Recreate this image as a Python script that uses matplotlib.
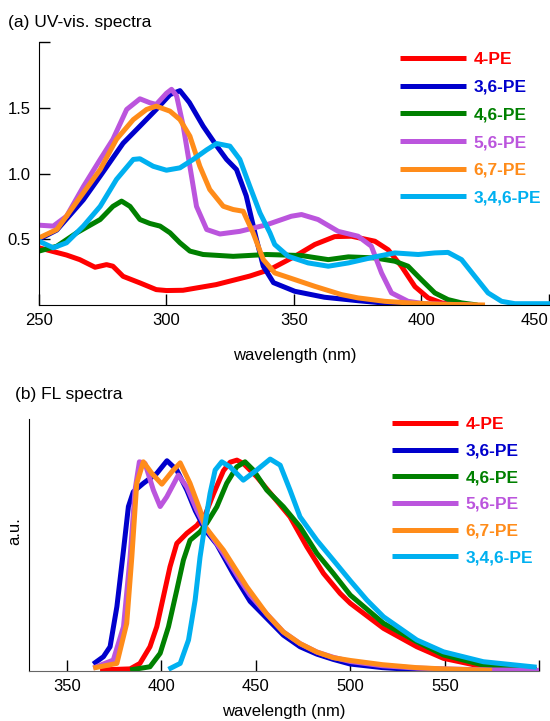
"""
UV-vis and FL spectra of the PE series
"""
import matplotlib
matplotlib.use("Agg")
from matplotlib import pyplot as plt

plt.rcParams['font.family'] = ['Liberation Sans', 'DejaVu Sans']

names = ['4-PE', '3,6-PE', '4,6-PE', '5,6-PE', '6,7-PE', '3,4,6-PE']
colors = ['#ff0000', '#0000cc', '#008000', '#bb55dd', '#ff8c1a', '#00b0f0']

# (a) UV-vis absorbance
uv_wl_4 = [250, 260.8, 266, 272, 276.5, 279, 283, 289.6, 296, 300, 306.5, 319.5, 332.7,
           340.6, 350.4, 358.2, 366, 372.6, 381.8, 387, 392.2, 397.5, 402.7, 408, 415, 420]
uv_abs_4 = [0.435, 0.38, 0.345, 0.287, 0.307, 0.295, 0.218, 0.168, 0.117, 0.11, 0.112, 0.155,
            0.22, 0.27, 0.37, 0.46, 0.52, 0.523, 0.485, 0.42, 0.295, 0.14, 0.054, 0.016, 0.0, 0.0]

uv_wl_36 = [250, 257, 267.4, 274, 283, 289.6, 296, 301.4, 305.3, 309, 314.4, 319.7, 323.6,
            327.5, 331.3, 335.3, 338, 342, 350.4, 362, 375, 388, 400]
uv_abs_36 = [0.5, 0.57, 0.80, 0.98, 1.23, 1.36, 1.487, 1.60, 1.63, 1.54, 1.36, 1.21, 1.107,
             1.03, 0.83, 0.50, 0.295, 0.17, 0.104, 0.059, 0.033, 0.01, 0.0]

uv_wl_46 = [250, 257, 264.8, 274, 279, 282.4, 285.7, 289.6, 293.5, 297.5, 301.4, 305.3, 309.2,
            314.4, 326.2, 339.3, 353, 363.5, 371.4, 381.8, 389.6, 394.8, 400, 405.3, 410.5,
            415.8, 422]
uv_abs_46 = [0.41, 0.447, 0.549, 0.65, 0.75, 0.79, 0.75, 0.65, 0.62, 0.6, 0.549, 0.473, 0.41,
             0.384, 0.37, 0.384, 0.376, 0.345, 0.366, 0.358, 0.333, 0.295, 0.193, 0.092, 0.041,
             0.016, 0.0]

uv_wl_56 = [250, 255.6, 260.8, 267.4, 274, 279, 284.4, 289.6, 293.5, 296, 300, 302, 304, 306.6,
            309.2, 311.8, 315.8, 321, 328.8, 339.3, 349, 353, 359.5, 367.4, 375.2, 380.4, 384.4,
            388.3, 394.8, 401, 420]
uv_abs_56 = [0.607, 0.60, 0.675, 0.90, 1.107, 1.26, 1.487, 1.568, 1.538, 1.525, 1.61, 1.64, 1.59,
             1.36, 1.055, 0.75, 0.574, 0.54, 0.56, 0.61, 0.675, 0.688, 0.65, 0.56, 0.523, 0.447,
             0.244, 0.092, 0.028, 0.01, 0.0]

uv_wl_67 = [250, 257, 267.4, 274, 280.4, 287, 292.2, 296, 301.4, 305.3, 309.2, 313.1, 317,
            322.3, 326.2, 330.1, 334, 338, 342.5, 350.4, 358.2, 368.7, 375.2, 385.7, 394.8,
            408, 425]
uv_abs_67 = [0.51, 0.574, 0.853, 1.03, 1.26, 1.41, 1.487, 1.512, 1.474, 1.41, 1.284, 1.055,
             0.878, 0.751, 0.726, 0.713, 0.549, 0.345, 0.244, 0.193, 0.142, 0.079, 0.054,
             0.028, 0.016, 0.005, 0.0]

uv_wl_346 = [250, 255.6, 260.8, 267.4, 274, 280.4, 287, 289.6, 294.8, 300, 305.3, 310.5, 315.8,
             319.7, 324.9, 328.8, 332.7, 336.7, 340.6, 342.5, 347.8, 355.6, 363.5, 371.4, 381.8,
             389.6, 398.8, 405.3, 410.5, 415.8, 421, 426.2, 431.5, 436.7, 450.5]
uv_abs_346 = [0.485, 0.435, 0.473, 0.6, 0.75, 0.955, 1.107, 1.112, 1.055, 1.025, 1.043, 1.107,
              1.18, 1.228, 1.208, 1.107, 0.903, 0.70, 0.549, 0.46, 0.37, 0.32, 0.295, 0.32,
              0.366, 0.396, 0.384, 0.396, 0.40, 0.345, 0.218, 0.092, 0.028, 0.01, 0.01]

# (b) normalised fluorescence
fl_wl_4 = [367.6, 383.5, 388.7, 394, 397.6, 401.1, 404.6, 408.2, 413.5, 418.8, 423.2, 427.6,
           432.9, 436.4, 440, 443.4, 450.5, 459.3, 468.1, 477, 485.8, 494.6, 500, 517.6, 535.2,
           549.3, 570.4, 598.6]
fl_int_4 = [0.005, 0.01, 0.036, 0.115, 0.21, 0.352, 0.494, 0.605, 0.653, 0.69, 0.74, 0.84,
            0.95, 0.99, 1.0, 0.984, 0.921, 0.826, 0.731, 0.589, 0.463, 0.368, 0.321, 0.202,
            0.115, 0.06, 0.02, 0.005]

fl_wl_36 = [364, 369.4, 372.9, 376.5, 380, 382.6, 385.2, 390.5, 397.6, 403, 408.2, 413.5, 418,
            423.2, 429.4, 438.1, 447, 455.8, 464.6, 473.4, 482.3, 491, 500, 517, 535, 549, 558]
fl_int_36 = [0.033, 0.068, 0.115, 0.305, 0.573, 0.78, 0.85, 0.89, 0.937, 0.997, 0.953, 0.858,
             0.76, 0.67, 0.6, 0.46, 0.33, 0.25, 0.17, 0.115, 0.08, 0.055, 0.033, 0.016, 0.006,
             0.0, 0.0]

fl_wl_46 = [383.5, 394, 399.4, 403.8, 408.2, 411.7, 415.2, 420.5, 424, 429.4, 434.6, 439.9,
            444.3, 448.7, 455.8, 464.6, 473.4, 482.3, 491, 500, 517.6, 535.2, 549.3, 570.4, 598.6]
fl_int_46 = [0.005, 0.02, 0.084, 0.21, 0.384, 0.526, 0.62, 0.66, 0.7, 0.779, 0.89, 0.968,
             0.992, 0.953, 0.858, 0.779, 0.684, 0.558, 0.463, 0.36, 0.226, 0.139, 0.076,
             0.028, 0.008]

fl_wl_56 = [364, 374.6, 380, 383.5, 386.1, 388.4, 391.4, 395.8, 399.4, 402.9, 409, 413.5, 418.8,
            423.2, 432.9, 441.7, 447, 455.8, 464.6, 473.4, 482.3, 491, 500, 517, 535, 549, 575, 600]
fl_int_56 = [0.014, 0.052, 0.21, 0.54, 0.858, 0.992, 0.984, 0.858, 0.78, 0.826, 0.929, 0.873,
             0.763, 0.684, 0.558, 0.431, 0.36, 0.27, 0.185, 0.13, 0.09, 0.065, 0.045, 0.025,
             0.014, 0.01, 0.005, 0.003]

fl_wl_67 = [364, 376.5, 381.7, 384.4, 387, 390.5, 395, 400.3, 405.6, 410, 415.2, 420.5, 423.2,
            432.9, 445.2, 455.8, 464.6, 473.4, 482.3, 491, 500, 517, 535, 549, 575]
fl_int_67 = [0.014, 0.036, 0.226, 0.54, 0.89, 0.992, 0.937, 0.886, 0.945, 0.987, 0.89, 0.763,
             0.684, 0.573, 0.4, 0.27, 0.185, 0.13, 0.09, 0.063, 0.05, 0.03, 0.016, 0.01, 0.003]

fl_wl_346 = [403.8, 410, 414.4, 417.9, 420.5, 423.2, 425.8, 428.5, 432, 436.4, 443.4, 450.5,
             457.6, 462.9, 468.1, 473.4, 482.3, 491, 500, 508.8, 517.6, 535.2, 549.3, 570.4, 598.6]
fl_int_346 = [0.008, 0.036, 0.147, 0.336, 0.54, 0.7, 0.842, 0.953, 0.992, 0.968, 0.905, 0.953,
              1.005, 0.976, 0.858, 0.731, 0.62, 0.526, 0.428, 0.336, 0.257, 0.147, 0.091,
              0.044, 0.018]

uv_series = [(uv_wl_4, uv_abs_4), (uv_wl_36, uv_abs_36), (uv_wl_46, uv_abs_46),
             (uv_wl_56, uv_abs_56), (uv_wl_67, uv_abs_67), (uv_wl_346, uv_abs_346)]
fl_series = [(fl_wl_4, fl_int_4), (fl_wl_36, fl_int_36), (fl_wl_46, fl_int_46),
             (fl_wl_56, fl_int_56), (fl_wl_67, fl_int_67), (fl_wl_346, fl_int_346)]


def style_axes(ax):
    ax.spines['top'].set_visible(False)
    ax.spines['right'].set_visible(False)
    ax.tick_params(direction='in', length=8, width=1, labelsize=12, pad=6)


def draw_legend(ax, anchor, fig, spacing):
    leg = ax.legend(loc='upper left', bbox_to_anchor=anchor, bbox_transform=fig.transFigure,
                    frameon=False, handlelength=3.8, handletextpad=0.45, labelspacing=spacing,
                    borderpad=0, borderaxespad=0, prop={'weight': 'bold', 'size': 12.5})
    for text, col in zip(leg.get_texts(), colors):
        text.set_color(col)


fig = plt.figure(figsize=(5.5, 7.21), dpi=100)

# ---- (a) UV-vis
ax1 = fig.add_axes([39 / 550, 1 - 305 / 721, 511 / 550, 263 / 721])
for (wl, val), name, col in zip(uv_series, names, colors):
    ax1.plot(wl, val, color=col, lw=3.6, label=name, solid_joinstyle='round',
             solid_capstyle='butt')
ax1.set_xlim(250, 450.5)
ax1.set_ylim(0, 2.0)
ax1.set_xticks([250, 300, 350, 400, 450])
ax1.set_yticks([0.5, 1.0, 1.5, 2.0])
ax1.set_yticklabels(['0.5', '1.0', '1.5', ''])
style_axes(ax1)
ax1.get_xticklabels()[-1].set_horizontalalignment('right')
ax1.set_xlabel('wavelength (nm)', fontsize=12, labelpad=14)
fig.text(8 / 550, 1 - 23 / 721, '(a) UV-vis. spectra', fontsize=12.5, va='center')
draw_legend(ax1, (400 / 550, 1 - 52 / 721), fig, 0.72)

# ---- (b) FL
ax2 = fig.add_axes([29 / 550, 1 - 671 / 721, 510.3 / 550, 252 / 721])
for (wl, val), name, col in zip(fl_series, names, colors):
    ax2.plot(wl, val, color=col, lw=3.6, label=name, solid_joinstyle='round',
             solid_capstyle='butt')
ax2.set_xlim(330, 600)
ax2.set_ylim(0, 1.195)
ax2.set_xticks([350, 400, 450, 500, 550, 600])
ax2.set_xticklabels(['350', '400', '450', '500', '550', ''])
ax2.set_yticks([])
style_axes(ax2)
ax2.spines['bottom'].set_color('#666666')
ax2.set_xlabel('wavelength (nm)', fontsize=12, labelpad=7)
fig.text(15 / 550, 1 - 531 / 721, 'a.u.', fontsize=12, rotation=90, ha='center', va='center')
fig.text(15 / 550, 1 - 395 / 721, '(b) FL spectra', fontsize=12.5, va='center')
draw_legend(ax2, (392 / 550, 1 - 417 / 721), fig, 0.66)

fig.savefig('out.png', dpi=100)
